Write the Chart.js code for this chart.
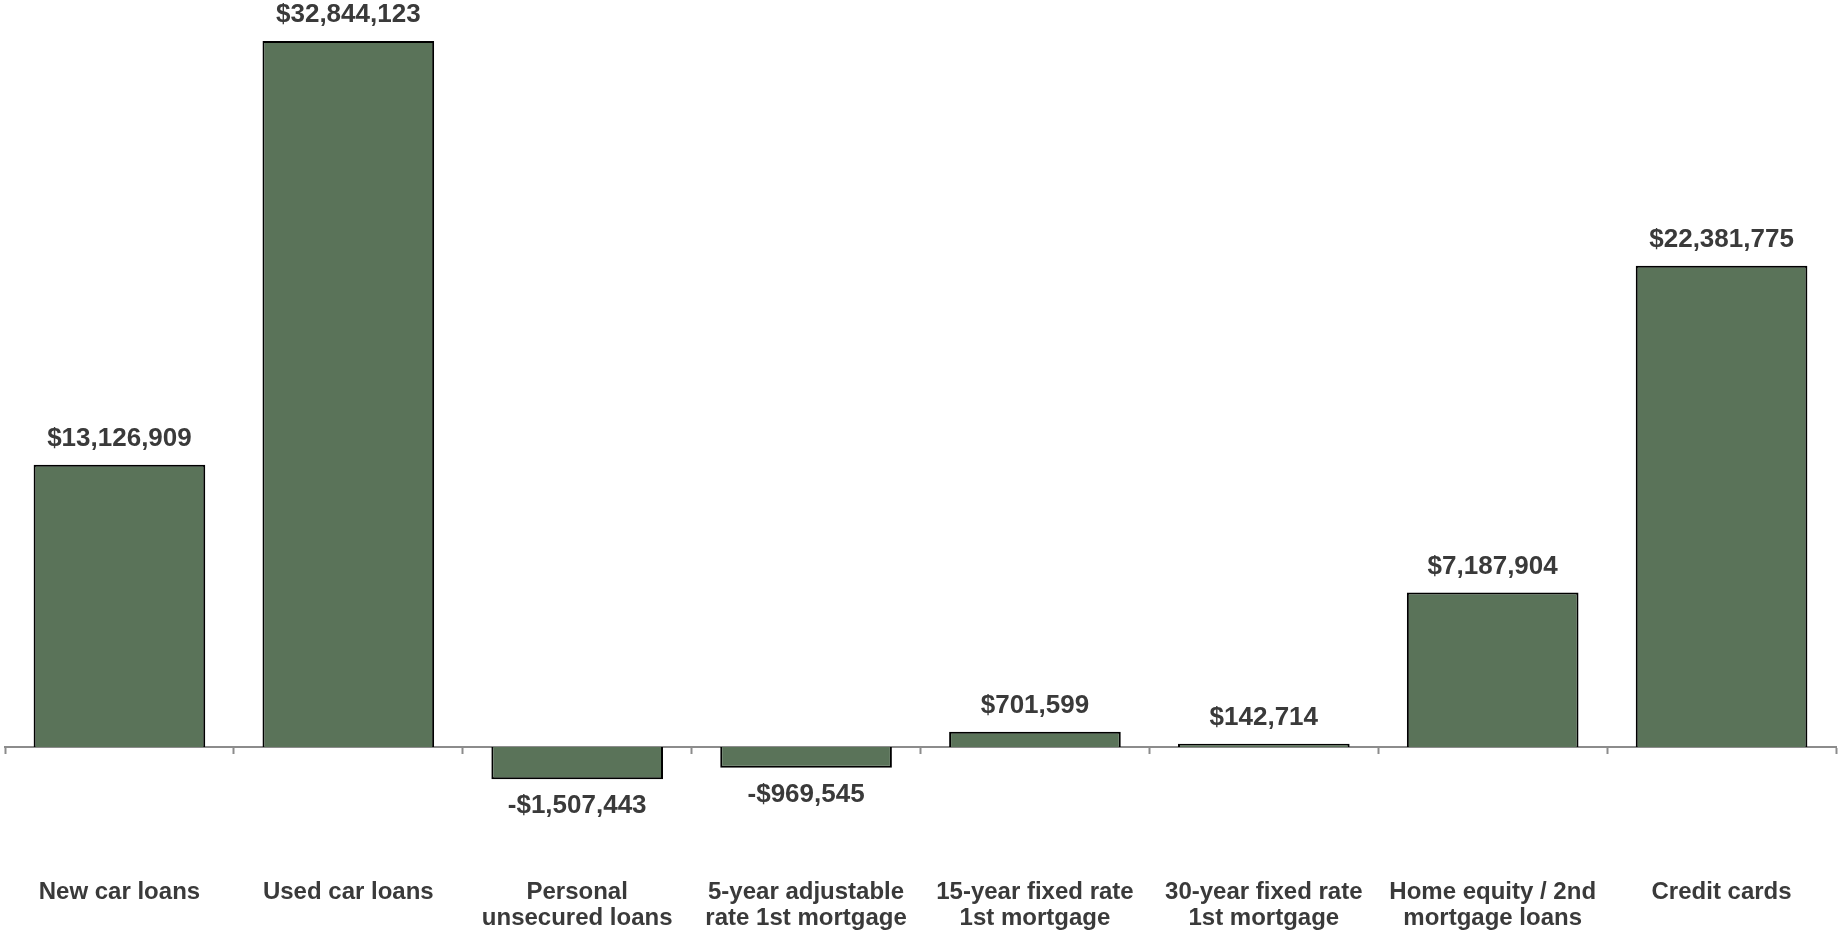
<!DOCTYPE html>
<html>
<head>
<meta charset="utf-8">
<title>Loan balances by product</title>
<script src="https://cdn.jsdelivr.net/npm/chart.js@4/dist/chart.umd.min.js"></script>
<style>
  html, body { margin: 0; padding: 0; background: #fff; }
  #wrap { width: 1839px; height: 931px; position: relative; }
</style>
</head>
<body>
<div id="wrap"><canvas id="chart"></canvas></div>
<script>
/* ---------- data ---------- */
const categories = [
  'New car loans',
  'Used car loans',
  ['Personal', 'unsecured loans'],
  ['5-year adjustable', 'rate 1st mortgage'],
  ['15-year fixed rate', '1st mortgage'],
  ['30-year fixed rate', '1st mortgage'],
  ['Home equity / 2nd', 'mortgage loans'],
  'Credit cards'
];
const balances = [13126909, 32844123, -1507443, -969545, 701599, 142714, 7187904, 22381775];

const FONT  = '"Liberation Sans", Arial, sans-serif';
const TEXT  = '#3a3a3a';
const GREEN = '#5a7359';
const AXIS  = '#8c8c8c';

/* $ formatting, negatives as -$x */
function money(v) {
  const s = '$' + Math.abs(v).toLocaleString('en-US');
  return v < 0 ? '-' + s : s;
}

/* value labels above / below each bar */
const valueLabels = {
  id: 'valueLabels',
  afterDatasetsDraw(chart) {
    const ctx = chart.ctx;
    const meta = chart.getDatasetMeta(0);
    ctx.save();
    ctx.font = 'bold 26px ' + FONT;
    ctx.fillStyle = TEXT;
    ctx.textAlign = 'center';
    ctx.textBaseline = 'middle';
    meta.data.forEach((bar, i) => {
      const v = balances[i];
      const y = v < 0 ? bar.y + 27 : bar.y - 26;
      ctx.fillText(money(v), bar.x, y);
    });
    ctx.restore();
  }
};

new Chart(document.getElementById('chart'), {
  type: 'bar',
  data: {
    labels: categories,
    datasets: [{
      data: balances,
      backgroundColor: GREEN,
      borderColor: '#000',
      borderWidth: 2,
      barPercentage: 0.75,
      categoryPercentage: 1,
    }],
  },
  options: {
    responsive: true,
    maintainAspectRatio: false,
    animation: false,
    layout: { padding: { left: 5, right: 3, top: 0, bottom: 0 } },
    plugins: {
      legend:  { display: false },
      tooltip: { enabled: false },
    },
    scales: {
      x: {
        position: 'bottom',
        grid:   { display: false },
        border: { display: false },
        ticks: {
          color: TEXT,
          font: { family: FONT, size: 24, weight: 'bold', lineHeight: 1.08 },
          padding: 0,
          autoSkip: false,
          maxRotation: 0,
        },
      },
      /* zero line with category tick marks */
      x2: {
        type: 'category',
        position: { y: 0 },
        grid: {
          offset: true,
          drawOnChartArea: false,
          tickLength: 6,
          tickWidth: 2,
          color: AXIS,
        },
        border: { display: true, color: AXIS, width: 2 },
        ticks: { display: false },
      },
      y: {
        display: false,
        min: -5780000,
        max: 34750000,
      },
    },
  },
  plugins: [valueLabels],
});
</script>
</body>
</html>
